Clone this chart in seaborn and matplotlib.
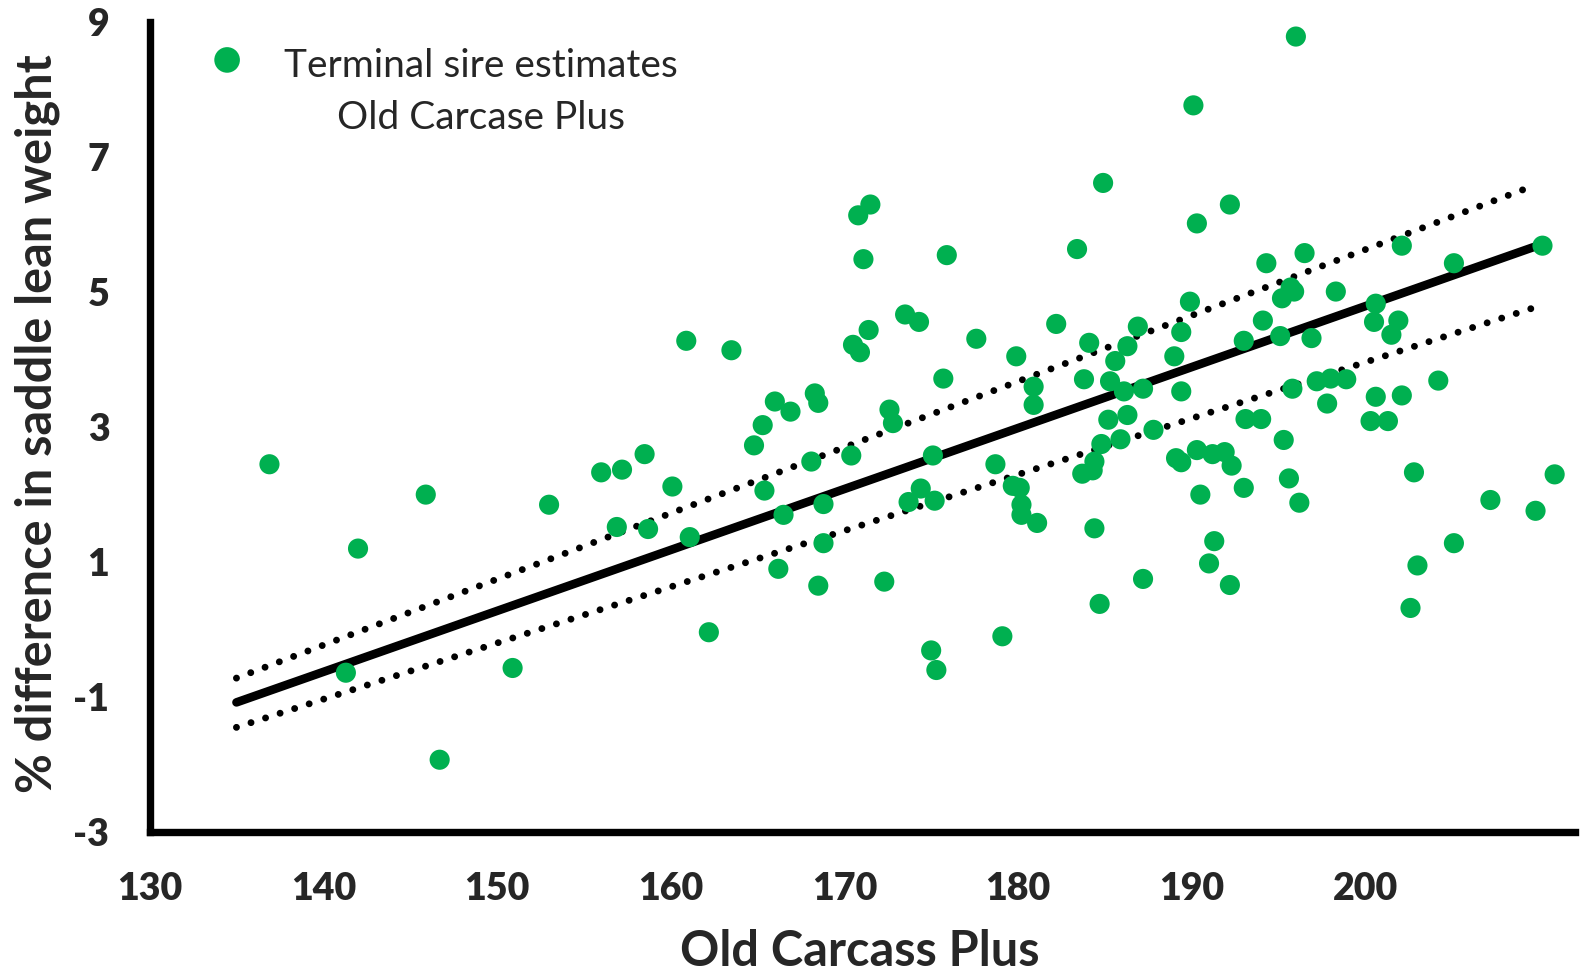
import matplotlib
matplotlib.use("Agg")
import matplotlib.pyplot as plt
import seaborn as sns
import pandas as pd
from matplotlib.font_manager import FontProperties

# Old Carcass Plus index vs % difference in saddle lean weight
ocp = [136.9, 141.3, 142.0, 145.9, 146.7, 150.9, 153.0, 156.0, 157.2, 156.9,
       158.5, 158.7, 160.1, 161.1, 160.9, 162.2, 163.5, 164.8, 165.3, 165.4,
       166.0, 166.9, 166.2, 166.5, 168.3, 168.5, 168.1, 168.5, 168.8, 168.8,
       170.4, 170.5, 170.9, 170.8, 171.5, 171.1, 171.4, 172.3, 172.6, 172.8,
       173.5, 173.7, 174.3, 174.4, 175.0, 175.1, 175.2, 175.3, 175.7, 175.9,
       177.6, 178.7, 179.1, 179.7, 179.9, 180.1, 180.2, 180.2, 180.9, 180.9,
       181.1, 182.2, 183.4, 183.7, 183.8, 184.1, 184.3, 184.4, 184.4, 184.7,
       184.8, 184.9, 185.2, 185.3, 185.6, 185.9, 186.1, 186.3, 186.3, 186.9,
       187.2, 187.2, 187.8, 189.0, 189.1, 189.4, 189.4, 189.4, 189.9, 190.1,
       190.3, 190.3, 190.5, 191.0, 191.2, 191.3, 191.9, 192.2, 192.2, 192.3,
       193.0, 193.0, 193.1, 194.0, 194.1, 194.3, 195.1, 195.2, 195.3, 195.6,
       195.8, 195.9, 195.7, 196.0, 196.2, 196.5, 196.9, 197.2, 197.8, 198.0,
       198.3, 198.9, 200.3, 200.5, 200.6, 200.6, 201.3, 201.5, 201.9, 202.1,
       202.1, 202.6, 202.8, 203.0, 204.2, 205.1, 205.1, 207.2, 209.8, 210.2,
       210.9]
saddle = [2.45, -0.64, 1.20, 2.00, -1.93, -0.57, 1.85, 2.33, 2.37, 1.52,
          2.60, 1.49, 2.12, 1.37, 4.28, -0.04, 4.14, 2.73, 3.03, 2.06,
          3.38, 3.23, 0.90, 1.70, 3.50, 3.36, 2.49, 0.65, 1.86, 1.28,
          2.58, 4.22, 4.11, 6.14, 6.30, 5.49, 4.44, 0.71, 3.26, 3.06,
          4.67, 1.89, 4.56, 2.09, -0.31, 2.58, 1.91, -0.60, 3.72, 5.55,
          4.31, 2.45, -0.10, 2.13, 4.05, 2.10, 1.85, 1.70, 3.60, 3.33,
          1.58, 4.53, 5.64, 2.31, 3.71, 4.25, 2.36, 2.49, 1.50, 0.38,
          2.75, 6.62, 3.11, 3.68, 3.98, 2.82, 3.53, 3.18, 4.20, 4.49,
          3.57, 0.75, 2.96, 4.05, 2.54, 4.41, 2.48, 3.53, 4.86, 7.77,
          6.02, 2.66, 2.00, 0.98, 2.60, 1.31, 2.63, 0.66, 6.30, 2.43,
          2.10, 4.28, 3.12, 3.12, 4.58, 5.43, 4.35, 4.91, 2.81, 2.24,
          3.57, 5.01, 5.07, 8.79, 1.88, 5.58, 4.32, 3.68, 3.35, 3.72,
          5.01, 3.71, 3.09, 4.56, 3.45, 4.83, 3.09, 4.37, 4.58, 5.69,
          3.47, 0.32, 2.33, 0.95, 3.69, 5.43, 1.28, 1.92, 1.76, 5.69,
          2.30]

# regression line and its dotted bounds
fit_x = [135.0, 209.7]
fit_mid = [-1.08, 5.67]
fit_hi = [-0.72, 6.58]
fit_lo = [-1.45, 4.77]

xticks = [130, 140, 150, 160, 170, 180, 190, 200, 210]
xtick_labels = ['130', '140', '150', '160', '170', '180', '190', '200', '']
yticks = [-3, -1, 1, 3, 5, 7, 9]
ytick_labels = ['-3', '-1', '1', '3', '5', '7', '9']

legend_label = 'Terminal sire estimates\nOld Carcase Plus'
green = '#00B050'

sns.set_style('white')
plt.rcParams['font.family'] = ['Lato', 'DejaVu Sans']
plt.rcParams['axes.unicode_minus'] = False

df = pd.DataFrame({'ocp': ocp, 'saddle': saddle})
fit = pd.DataFrame({'x': fit_x, 'mid': fit_mid, 'hi': fit_hi, 'lo': fit_lo})

fig, ax = plt.subplots(figsize=(15.85, 9.73), dpi=100)
fig.subplots_adjust(left=0.0944, right=0.994, bottom=0.145, top=0.977)

sns.lineplot(data=fit, x='x', y='mid', color='black', lw=6.2,
             solid_capstyle='round', ax=ax, zorder=2)
for col in ['hi', 'lo']:
    sns.lineplot(data=fit, x='x', y=col, color='black', lw=5,
                 linestyle=(0, (0.001, 2.2)), dash_capstyle='round', ax=ax, zorder=2)
sns.scatterplot(data=df, x='ocp', y='saddle', color=green, s=210,
                edgecolor='none', ax=ax, zorder=3, label=legend_label)

ax.set_xlim(130, 212.1)
ax.set_ylim(-3, 9)
ax.set_xticks(xticks, labels=xtick_labels)
ax.set_yticks(yticks, labels=ytick_labels)

for side in ['top', 'right']:
    ax.spines[side].set_visible(False)
for side in ['left', 'bottom']:
    ax.spines[side].set_linewidth(5.3)
    ax.spines[side].set_color('black')
    ax.spines[side].set_capstyle('projecting')

ax.tick_params(axis='both', direction='in', length=9, width=5, color='black', pad=29)

ax.set_xlabel('Old Carcass Plus', fontsize=35, fontweight='bold')
ax.set_ylabel('% difference in saddle lean weight', fontsize=35, fontweight='bold')
ax.xaxis.set_label_coords(0.498, -0.120)
ax.yaxis.set_label_coords(-0.063, 0.504)

fs = 28
leg = ax.legend(loc='upper left', bbox_to_anchor=(0.0407, 0.968), frameon=False,
                fontsize=fs, borderpad=0, borderaxespad=0, handlelength=1.0,
                handletextpad=0.957, scatteryoffsets=[1.72])
for t in leg.get_texts():
    t.set_multialignment('center')
    t.set_linespacing(1.55)
leg.legend_handles[0].set_sizes([340])

# heavy tick labels, set once the ticks are final
tick_font = FontProperties(family=['Lato', 'DejaVu Sans'], weight='heavy', size=27)
fig.canvas.draw()
for lab in ax.get_xticklabels() + ax.get_yticklabels():
    lab.set_fontproperties(tick_font)

fig.savefig('out.png', dpi=100, facecolor='white')
